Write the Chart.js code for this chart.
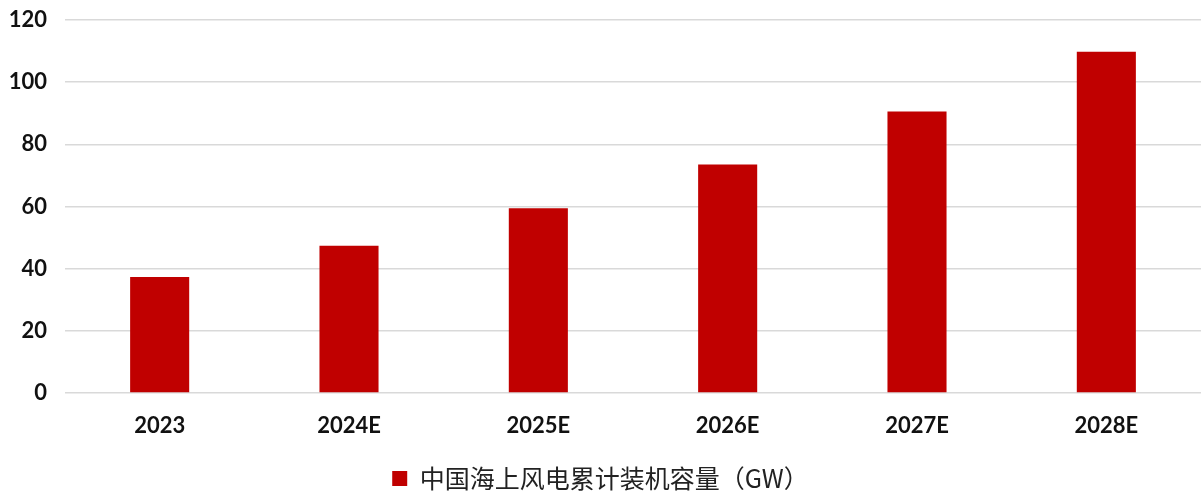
<!DOCTYPE html>
<html>
<head>
<meta charset="utf-8">
<script src="https://cdn.jsdelivr.net/npm/chart.js@4/dist/chart.umd.min.js"></script>
<style>
  html, body { margin: 0; padding: 0; background: #ffffff; }
  #wrap { width: 1201px; height: 492px; position: relative; }
</style>
</head>
<body>
<div id="wrap"><canvas id="c" width="1201" height="492"></canvas></div>
<script>
// Cumulative installed offshore wind capacity in China (GW)
const categories = ['2023', '2024E', '2025E', '2026E', '2027E', '2028E'];
const capacityGW = [37.3, 47.4, 59.4, 73.5, 90.6, 109.8];
const seriesLabel = '中国海上风电累计装机容量（GW）';
const yTicks = { min: 0, max: 120, step: 20 };

const ctx = document.getElementById('c').getContext('2d');
new Chart(ctx, {
  type: 'bar',
  data: {
    labels: categories,
    datasets: [{
      label: seriesLabel,
      data: capacityGW,
      backgroundColor: '#c00000',
      borderWidth: 0,
      categoryPercentage: 1.0,
      barPercentage: 0.312
    }]
  },
  options: {
    responsive: false,
    animation: false,
    devicePixelRatio: 1,
    layout: { padding: { top: 20, right: 0, bottom: 0, left: 0 } },
    scales: {
      x: {
        grid: { display: false, drawTicks: false },
        border: { display: false },
        ticks: {
          color: '#111111',
          padding: 20,
          font: { family: 'Lato', size: 22, weight: 'bold' }
        },
        afterFit: (scale) => { scale.height = 68; }
      },
      y: {
        min: yTicks.min,
        max: yTicks.max,
        grid: { color: '#d9d9d9', lineWidth: 1.5, drawTicks: false },
        border: { display: false },
        ticks: {
          stepSize: yTicks.step,
          color: '#111111',
          padding: 18,
          font: { family: 'Lato', size: 22, weight: 'bold' }
        },
        afterFit: (scale) => {
          scale.width = 65;
          scale.paddingTop = 0;
          scale.paddingBottom = 0;
        }
      }
    },
    plugins: {
      tooltip: { enabled: false },
      legend: {
        position: 'bottom',
        maxHeight: 31,
        labels: {
          boxWidth: 15,
          boxHeight: 15,
          padding: 5,
          color: '#222222',
          font: { family: '"Noto Sans CJK SC"', size: 25 }
        }
      }
    }
  }
});
</script>
</body>
</html>
